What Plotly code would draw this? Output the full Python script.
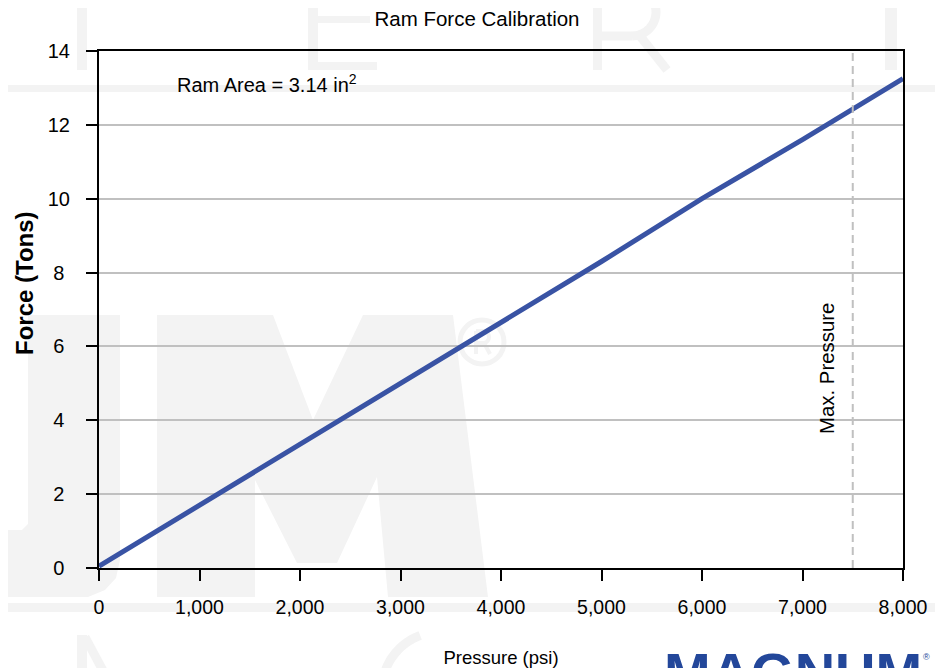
import math
import plotly.graph_objects as go

# ---------------- data ----------------
pressure = [0, 1000, 2000, 3000, 4000, 5000, 6000, 7000, 8000]
force = [0.05, 1.7, 3.35, 5.0, 6.65, 8.3, 10.0, 11.6, 13.25]
max_pressure = 7500
x_ticks = [0, 1000, 2000, 3000, 4000, 5000, 6000, 7000, 8000]
x_tick_labels = ["0", "1,000", "2,000", "3,000", "4,000", "5,000", "6,000", "7,000", "8,000"]
y_ticks = [0, 2, 4, 6, 8, 10, 12, 14]
# labels look centred in the reference: pad single digits with a no-break space
y_tick_labels = [f"{v}\u00a0" if v < 10 else f"{v}" for v in y_ticks]

# ---------------- layout geometry ----------------
# the page adds an 8px body margin, so the figure is made 8px smaller
OFF = 8
W, H = 943 - OFF, 668 - OFF
ML, MT = 99 - OFF, 51 - OFF
PW, PH = 804, 517
MR = W - ML - PW
MB = H - MT - PH
FONT = "Liberation Sans, Arial, sans-serif"
WM = "#f3f3f3"

# helpers convert reference-picture pixels into paper fractions
X0, Y0 = 99, 568


def px(x):
    return (x - X0) / PW


def py(y):
    return (Y0 - y) / PH


def rect(x0, y0, x1, y1):
    return dict(type="rect", xref="paper", yref="paper", layer="below",
                x0=px(x0), x1=px(x1), y0=py(y1), y1=py(y0),
                fillcolor=WM, line=dict(width=0))


def poly(pts):
    s = "M " + " L ".join(f"{px(x):.5f},{py(y):.5f}" for x, y in pts) + " Z"
    return dict(type="path", xref="paper", yref="paper", layer="below", path=s,
                fillcolor=WM, line=dict(width=0))


def seg(x0, y0, x1, y1, w):
    return dict(type="line", xref="paper", yref="paper", layer="below",
                x0=px(x0), y0=py(y0), x1=px(x1), y1=py(y1),
                line=dict(color=WM, width=w))


def arc(cx, cy, r, a0, a1, w):
    pts = []
    n = 30
    for i in range(n + 1):
        a = math.radians(a0 + (a1 - a0) * i / n)
        pts.append((cx + r * math.cos(a), cy - r * math.sin(a)))
    s = "M " + " L ".join(f"{px(x):.5f},{py(y):.5f}" for x, y in pts)
    return dict(type="path", xref="paper", yref="paper", layer="below", path=s,
                line=dict(color=WM, width=w))


shapes = [
    # top row of faint letters
    rect(77, -10, 87, 70),
    rect(308, -10, 318, 70), rect(318, 16, 370, 23), rect(318, 62, 377, 70),
    rect(593, -10, 602, 70),
    arc(632, 12, 24, -90, 90, 9),
    seg(602, 36, 632, 36, 9),
    seg(640, 36, 667, 70, 9),
    rect(885, -10, 897, 70),
    # bands
    rect(-10, 85, 950, 92),
    rect(-10, 603, 950, 612),
    # big U (right part)
    poly([(28, 315), (120, 315), (120, 560), (116, 578), (105, 590), (88, 597),
          (-10, 597), (-10, 530), (22, 530), (28, 524)]),
    # big M
    poly([(157, 315), (273, 315), (313, 420), (363, 315), (453, 315), (488, 597),
          (388, 597), (377, 477), (337, 563), (297, 563), (255, 480), (255, 597),
          (157, 597)]),
    # registered mark
    dict(type="circle", xref="paper", yref="paper", layer="below",
         x0=px(460), x1=px(504), y0=py(364), y1=py(320),
         line=dict(color=WM, width=5)),
    seg(476, 331, 476, 354, 4),
    arc(483, 337, 6, -90, 90, 4),
    seg(476, 331, 483, 331, 4),
    seg(476, 343, 483, 343, 4),
    seg(484, 343, 490, 354, 4),
    # bottom row letters
    rect(77, 635, 87, 680),
    seg(85, 637, 108, 680, 9),
    arc(440, 690, 58, 110, 200, 9),
]

fig = go.Figure()

fig.add_trace(go.Scatter(
    x=pressure, y=force, mode="lines",
    line=dict(color="#3953a4", width=5),
    hoverinfo="skip", showlegend=False))

fig.add_trace(go.Scatter(
    x=[max_pressure, max_pressure], y=[y_ticks[0], y_ticks[-1]], mode="lines",
    line=dict(color="#c0c0c0", width=2, dash="8px,5px"),
    hoverinfo="skip", showlegend=False))

annotations = [
    dict(text="<b>Force (Tons)</b>", xref="paper", yref="paper",
         x=px(24), y=py(283), textangle=-90, showarrow=False,
         xanchor="center", yanchor="middle",
         font=dict(family=FONT, size=24, color="black")),
    dict(text="Ram Area = 3.14 in<sup>2</sup>", xref="x", yref="y",
         x=760, y=13.13, xanchor="left", yanchor="middle", showarrow=False,
         font=dict(family=FONT, size=20, color="black")),
    dict(text="Max. Pressure", xref="x", yref="y",
         x=7244, y=5.39, textangle=-90, showarrow=False,
         xanchor="center", yanchor="middle",
         font=dict(family=FONT, size=20.4, color="black")),
    dict(text="<b>MAGNUM</b>", xref="paper", yref="paper", x=px(662), y=py(639),
         showarrow=False, xanchor="left", yanchor="top",
         font=dict(family=FONT, size=56, color="#23479a")),
    dict(text="®", xref="paper", yref="paper", x=px(921), y=py(657),
         showarrow=False, xanchor="left", yanchor="middle",
         font=dict(family=FONT, size=9, color="#23479a")),
]

fig.update_layout(
    width=W, height=H,
    margin=dict(l=ML, r=MR, t=MT, b=MB, autoexpand=False),
    paper_bgcolor="white",
    plot_bgcolor="rgba(0,0,0,0)",
    font=dict(family=FONT, color="black"),
    title=dict(text="Ram Force Calibration", x=(477 - OFF) / W, y=1 - (19 - OFF) / H,
               xref="container", yref="container",
               xanchor="center", yanchor="middle",
               font=dict(family=FONT, size=20.5, color="black")),
    shapes=shapes,
    annotations=annotations,
    showlegend=False,
    xaxis=dict(
        range=[x_ticks[0], x_ticks[-1]], automargin=False,
        tickmode="array", tickvals=x_ticks, ticktext=x_tick_labels,
        ticks="outside", ticklen=11, tickwidth=2, tickcolor="black",
        showline=True, linecolor="black", linewidth=2, mirror=True,
        showgrid=False, zeroline=False,
        tickfont=dict(family=FONT, size=19.5, color="black"),
        ticklabelstandoff=10,
        title=dict(text="Pressure (psi)", standoff=34,
                   font=dict(family=FONT, size=18.5, color="black")),
    ),
    yaxis=dict(
        range=[y_ticks[0], y_ticks[-1]], automargin=False,
        tickmode="array", tickvals=y_ticks, ticktext=y_tick_labels,
        ticks="outside", ticklen=11, tickwidth=2, tickcolor="black",
        showline=True, linecolor="black", linewidth=2, mirror=True,
        showgrid=True, gridcolor="#c0c0c0", gridwidth=2,
        zeroline=False,
        tickfont=dict(family=FONT, size=20, color="black"),
        ticklabelstandoff=12,
    ),
)

fig.write_html("out.html")
